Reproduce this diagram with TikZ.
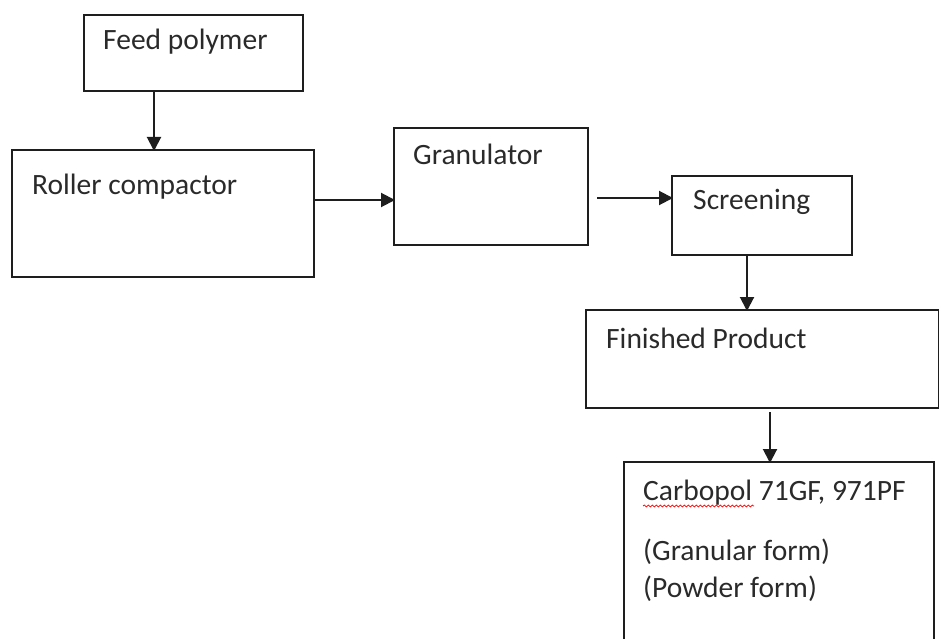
\documentclass[tikz,border=0pt]{standalone}
\usepackage{fontspec}
\setmainfont{Carlito}
\usetikzlibrary{arrows.meta,decorations.pathmorphing}
\definecolor{ink}{HTML}{1E1E1E}
\definecolor{txt}{HTML}{2A2A2A}
\tikzset{
  box/.style={draw=ink, line width=2.4pt, rectangle, inner sep=0pt, anchor=north west},
  lbl/.style={anchor=base west, inner sep=0pt, text=txt, font=\fontsize{29.5}{35}\selectfont},
  arr/.style={draw=ink, line width=2pt, -{Triangle[length=14pt,width=14pt]}}
}
\begin{document}
\begin{tikzpicture}[x=1pt,y=-1pt]
\useasboundingbox (0,0) rectangle (939,639);
\clip (0,0) rectangle (939,639);
% boxes
\node[box, minimum width=219pt, minimum height=76pt] (feed) at (83,14) {};
\node[box, minimum width=302pt, minimum height=127pt] (roller) at (11,149) {};
\node[box, minimum width=194pt, minimum height=117pt] (gran) at (393,127) {};
\node[box, minimum width=180pt, minimum height=79pt] (screen) at (671,175) {};
\node[box, minimum width=353pt, minimum height=98pt] (fin) at (585,309) {};
\node[box, minimum width=310pt, minimum height=200pt] (carb) at (623,461) {};
% labels
\node[lbl] (tfeed) at (103,50) {Feed polymer};
\node[lbl] (troller) at (32,194) {Roller compactor};
\node[lbl] (tgran) at (413,165) {Granulator};
\node[lbl] (tscreen) at (693,210) {Screening};
\node[lbl] (tfin) at (606,348) {Finished Product};
\node[lbl] (tcarb) at (643,500) {Carbopol 71GF, 971PF};
\node[lbl] (tgr) at (643,560) {(Granular form)};
\node[lbl] (tpw) at (643,597) {(Powder form)};
% spell-check squiggle
\coordinate (sq1) at (643,506);
\coordinate (sq2) at (754,506);
\draw[red, line width=0.7pt, decorate, decoration={snake, amplitude=1pt, segment length=4pt}] (sq1) -- (sq2);
% connector guides
\coordinate (x1) at (154,0);
\coordinate (y2) at (0,200);
\coordinate (g1) at (597,198);
\coordinate (x3) at (747,0);
\coordinate (x4) at (770,0);
% connectors
\draw[arr, shorten >=-2pt] (feed.south -| x1) -- (roller.north -| x1);
\draw[arr, shorten >=-2pt] (roller.east |- y2) -- (gran.west |- y2);
\draw[arr, shorten >=-2pt] (g1) -- (screen.west |- g1);
\draw[arr, shorten >=-2pt] (screen.south -| x3) -- (fin.north -| x3);
\draw[arr, shorten <=3pt, shorten >=-2pt] (fin.south -| x4) -- (carb.north -| x4);
\end{tikzpicture}
\end{document}
